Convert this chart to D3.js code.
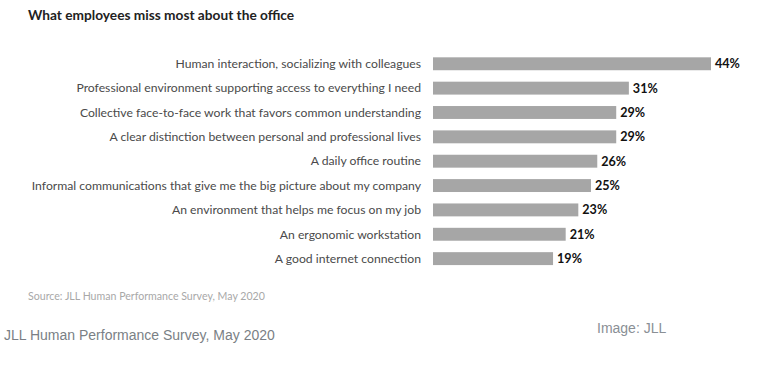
<!DOCTYPE html>
<html><head><meta charset="utf-8">
<script src="https://cdn.jsdelivr.net/npm/d3@7"></script>
<style>body{margin:0;background:#fff}svg{display:block}</style>
</head><body><svg id="c" width="766" height="369"></svg>
<script>
const categories = [
  "Human interaction, socializing with colleagues",
  "Professional environment supporting access to everything I need",
  "Collective face-to-face work that favors common understanding",
  "A clear distinction between personal and professional lives",
  "A daily office routine",
  "Informal communications that give me the big picture about my company",
  "An environment that helps me focus on my job",
  "An ergonomic workstation",
  "A good internet connection"
];
const values = [44, 31, 29, 29, 26, 25, 23, 21, 19];
const valueLabels = ["44%","31%","29%","29%","26%","25%","23%","21%","19%"];
const title = "What employees miss most about the office";
const sourceText = "Source: JLL Human Performance Survey, May 2020";
const caption = "JLL Human Performance Survey, May 2020";
const credit = "Image: JLL";

const svg = d3.select("#c");
const chartFont = "Lato, 'Open Sans', sans-serif";

const x = d3.scaleLinear().domain([0, 44]).range([433, 711]);
const y = d3.scaleBand().domain(categories).range([51.6, 270.8]).paddingInner(0.47).paddingOuter(0.235);

svg.append("text").attr("x", 28).attr("y", 20)
  .attr("font-family", chartFont).attr("font-weight", 700).attr("font-size", 13.7)
  .attr("fill", "#222").text(title);

const g = svg.append("g");
g.selectAll("rect").data(values).join("rect")
  .attr("x", x(0)).attr("y", (d,i) => y(categories[i]))
  .attr("width", d => x(d) - x(0)).attr("height", y.bandwidth())
  .attr("fill", "#a6a6a6");

g.selectAll("text.cat").data(categories).join("text").attr("class","cat")
  .attr("x", 421).attr("y", d => y(d) + y.bandwidth()/2)
  .attr("dy", "0.35em").attr("text-anchor", "end")
  .attr("font-family", chartFont).attr("font-size", 12.2).attr("fill", "#4a4a4a")
  .text(d => d);

g.selectAll("text.val").data(values).join("text").attr("class","val")
  .attr("x", d => x(d) + 4).attr("y", (d,i) => y(categories[i]) + y.bandwidth()/2)
  .attr("dy", "0.35em")
  .attr("font-family", chartFont).attr("font-weight", 700).attr("font-size", 12.6).attr("fill", "#111")
  .text((d,i) => valueLabels[i]);

svg.append("text").attr("x", 28).attr("y", 300)
  .attr("font-family", chartFont).attr("font-size", 10.6).attr("fill", "#a8a8a8").text(sourceText);

svg.append("text").attr("x", 4).attr("y", 340)
  .attr("font-family", "'Liberation Sans', Arial, sans-serif").attr("font-size", 14).attr("fill", "#7a7f85").text(caption);

svg.append("text").attr("x", 597).attr("y", 333)
  .attr("font-family", "'Liberation Sans', Arial, sans-serif").attr("font-size", 14).attr("fill", "#8a8f95").text(credit);
</script></body></html>
